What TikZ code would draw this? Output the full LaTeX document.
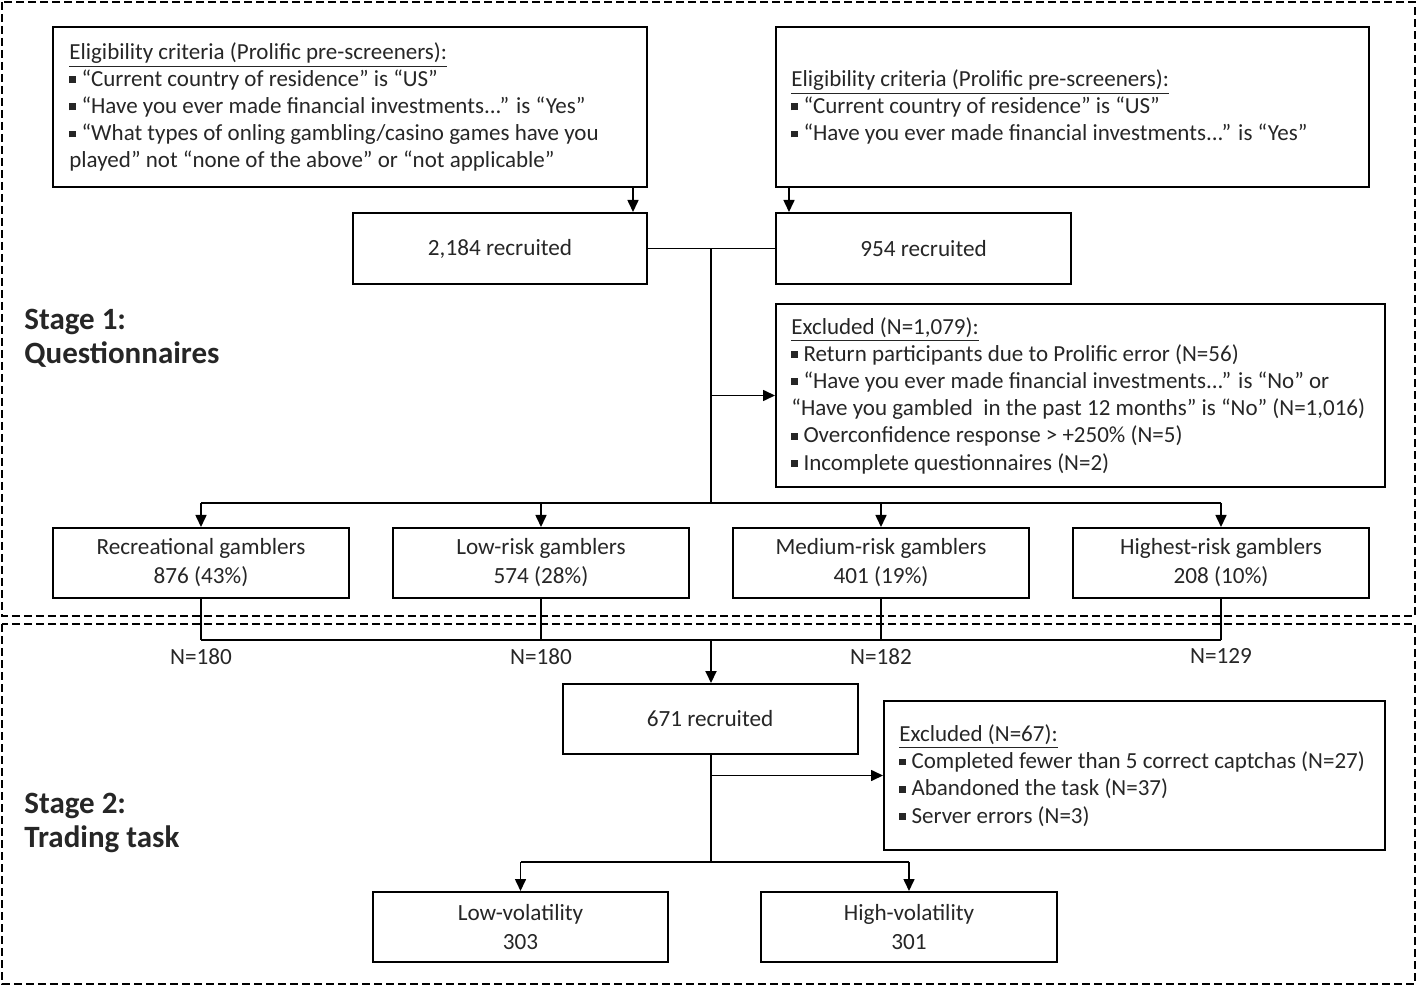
\documentclass[tikz,border=0pt]{standalone}
\usepackage{fontspec}
\setmainfont{Carlito}
\usetikzlibrary{arrows.meta}
\newcommand\mybul{\raisebox{0.3ex}{\rule{0.3em}{0.3em}}\ }
\begin{document}
\begin{tikzpicture}[x=0.5pt,y=-0.5pt,
  box/.style={draw=black, line width=1pt, inner sep=0pt, align=center, text=black!85,
    font=\fontsize{11.6}{14.5}\selectfont},
  txt/.style={inner sep=0pt, align=left, anchor=west, text=black!85,
    font=\fontsize{11.5}{13.6}\selectfont},
  con/.style={line width=0.8pt},
  arr/.style={con, -{Triangle[length=6pt,width=5.5pt]}},
  stagebox/.style={dash pattern=on 4pt off 2pt, line width=0.8pt},
  lab/.style={font=\fontsize{15.5}{17.2}\selectfont\bfseries, align=left, inner sep=0pt, anchor=west, text=black!85},
  nlab/.style={inner sep=0pt, anchor=north, text=black!85, font=\fontsize{11.6}{13}\selectfont}
]
\useasboundingbox (0,0) rectangle (1418,988);
\draw[stagebox] (2,2) rectangle (1415,616);
\draw[stagebox] (2,624) rectangle (1415,984);

% stage labels
\node[lab] (S1) at (24,338) {Stage 1:\\Questionnaires};
\node[lab] (S2) at (24,823) {Stage 2:\\Trading task};

% eligibility boxes
\node[box, minimum width=297pt, minimum height=80pt] (A) at (350,107) {};
\node[txt] (At) at ([xshift=8.5pt]A.west) {\underline{Eligibility criteria (Prolific pre-screeners):}\\
\mybul“Current country of residence” is “US”\\
\mybul“Have you ever made financial investments...” is “Yes”\\
\mybul“What types of onling gambling/casino games have you\\
played” not “none of the above” or “not applicable”};

\node[box, minimum width=296.5pt, minimum height=80pt] (B) at (1072.5,107) {};
\node[txt] (Bt) at ([xshift=8pt]B.west) {\underline{Eligibility criteria (Prolific pre-screeners):}\\
\mybul“Current country of residence” is “US”\\
\mybul“Have you ever made financial investments...” is “Yes”};

% recruited
\node[box, minimum width=147pt, minimum height=35.5pt] (R1) at (500,248.5) {2,184 recruited};
\node[box, minimum width=147.5pt, minimum height=35.5pt] (R2) at (923.5,248.5) {954 recruited};

% excluded 1
\node[box, minimum width=304.5pt, minimum height=91.5pt] (E1) at (1080.5,395.5) {};
\node[txt] (E1t) at ([xshift=8pt]E1.west) {\underline{Excluded (N=1,079):}\\
\mybul Return participants due to Prolific error (N=56)\\
\mybul“Have you ever made financial investments...” is “No” or\\
“Have you gambled\ \ in the past 12 months” is “No” (N=1,016)\\
\mybul Overconfidence response > +250\% (N=5)\\
\mybul Incomplete questionnaires (N=2)};

% gambler groups
\node[box, minimum width=148pt, minimum height=35pt] (G1) at (201,563) {Recreational gamblers\\876 (43\%)};
\node[box, minimum width=148pt, minimum height=35pt] (G2) at (541,563) {Low-risk gamblers\\574 (28\%)};
\node[box, minimum width=148pt, minimum height=35pt] (G3) at (881,563) {Medium-risk gamblers\\401 (19\%)};
\node[box, minimum width=148pt, minimum height=35pt] (G4) at (1221,563) {Highest-risk gamblers\\208 (10\%)};

% stage 2
\node[box, minimum width=147.5pt, minimum height=35pt] (R3) at (710,719) {671 recruited};
\node[box, minimum width=250.5pt, minimum height=74.5pt] (E2) at (1134.5,775.5) {};
\node[txt] (E2t) at ([xshift=8pt]E2.west) {\underline{Excluded (N=67):}\\
\mybul Completed fewer than 5 correct captchas (N=27)\\
\mybul Abandoned the task (N=37)\\
\mybul Server errors (N=3)};

\node[box, minimum width=147.5pt, minimum height=35pt] (L) at (520.5,927) {Low-volatility\\303};
\node[box, minimum width=148pt, minimum height=35pt] (H) at (909,927) {High-volatility\\301};

% junction coordinates
\coordinate (J1) at (711,248.5);
\coordinate (J2) at (711,503);
\coordinate (J3) at (711,640);
\coordinate (J4) at (711,862);

% connectors stage 1
\draw[arr] ([xshift=-7.5pt]A.south east) -- ([xshift=-7.5pt]R1.north east);
\draw[arr] ([xshift=7pt]B.south west) -- ([xshift=7pt]R2.north west);
\draw[con] (R1.east) -- (R2.west);
\draw[con] (J1) -- (J2);
\draw[arr] (J1 |- E1.west) -- (E1.west);
\draw[con] (G1.north |- J2) -- (G4.north |- J2);
\foreach \g in {G1,G2,G3,G4}{
  \draw[arr] (\g.north |- J2) -- (\g.north);
  \draw[con] (\g.south) -- (\g.south |- J3);
}
\draw[con] (G1.south |- J3) -- (G4.south |- J3);

% N labels
\node[nlab] (N1) at ([yshift=-4pt]G1.south |- J3) {N=180};
\node[nlab] (N2) at ([yshift=-4pt]G2.south |- J3) {N=180};
\node[nlab] (N3) at ([yshift=-4pt]G3.south |- J3) {N=182};
\node[nlab] (N4) at ([yshift=-4pt]G4.south |- J3) {N=129};

% connectors stage 2
\draw[arr, line width=1pt] (J3) -- (J3 |- R3.north);
\draw[con] (J3 |- R3.south) -- (J4);
\draw[arr] (J4 |- E2.west) -- (E2.west);
\draw[con] (L.north |- J4) -- (H.north |- J4);
\draw[arr] (L.north |- J4) -- (L.north);
\draw[arr] (H.north |- J4) -- (H.north);
\end{tikzpicture}
\end{document}
